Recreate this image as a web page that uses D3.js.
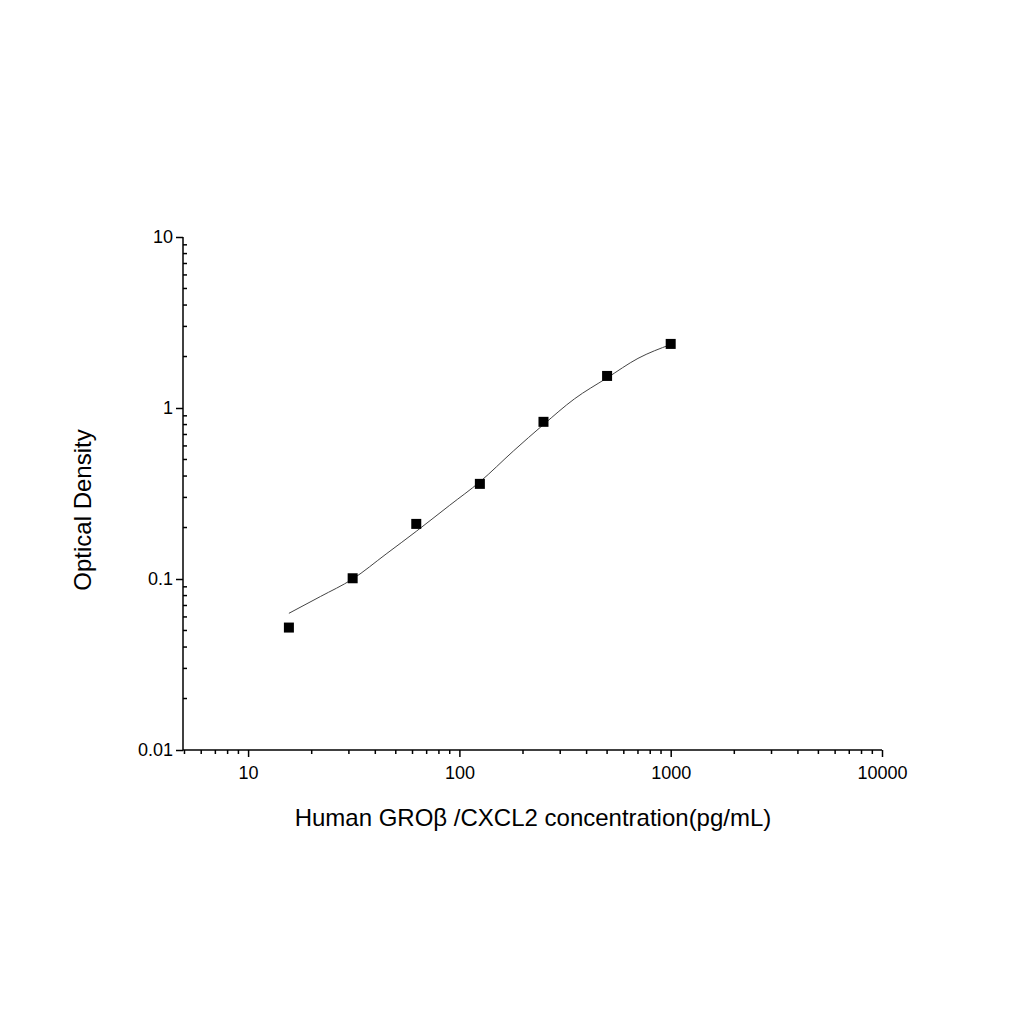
<!DOCTYPE html>
<html><head><meta charset="utf-8">
<script src="https://cdn.jsdelivr.net/npm/d3@7"></script>
<style>body{margin:0;background:#fff}</style>
</head><body><div id="canvas"></div>
<script>
// standard points
let conc = [15.6, 31.25, 62.5, 125, 250, 500, 1000]
let od = [0.052, 0.101, 0.21, 0.36, 0.83, 1.54, 2.37]
// fitted curve
let curveX = [15.6, 22, 31.25, 45, 62.5, 90, 125, 180, 250, 350, 500, 700, 1000]
let curveY = [0.063, 0.079, 0.1, 0.14, 0.19, 0.27, 0.37, 0.56, 0.8, 1.13, 1.5, 1.95, 2.35]
let xTicks = [10, 100, 1000, 10000]
let yTicks = [0.01, 0.1, 1, 10]

window.onload = function(){setup()}

function setup(){
  let svg = d3.select("#canvas").append("svg").attr("width", 1024).attr("height", 1024)
  let font = "Arial, 'Liberation Sans', sans-serif"

  let x = d3.scaleLog().domain([4.92, 10000]).range([183, 882])
  let y = d3.scaleLog().domain([0.01, 10]).range([750, 237])

  let minorX = []
  for (let d = 1; d <= 1000; d *= 10) for (let k = 2; k <= 9; k++) if (k*d >= 5) minorX.push(k*d)
  let minorY = []
  for (let d = 0.01; d < 10; d *= 10) for (let k = 2; k <= 9; k++) minorY.push(k*d)

  let xa = svg.append("g").attr("transform", "translate(0,750)")
    .call(d3.axisBottom(x).tickValues(xTicks).tickFormat(d3.format("d")).tickSize(7).tickSizeOuter(0))
  xa.selectAll(".domain").attr("d", "M183,0H882")
  xa.attr("font-family", font).attr("font-size", 18)
  xa.selectAll("text").attr("dy", "1.05em")
  xa.selectAll("line").attr("stroke-width", 1.5)
  xa.selectAll(".minor").data(minorX).join("line").attr("class", "minor")
    .attr("x1", d => x(d)).attr("x2", d => x(d)).attr("y1", 0).attr("y2", 4)
    .attr("stroke", "#000").attr("stroke-width", 1.5)

  let ya = svg.append("g").attr("transform", "translate(183,0)")
    .call(d3.axisLeft(y).tickValues(yTicks).tickFormat(d => d3.format("~g")(d)).tickSize(7).tickSizeOuter(0))
  ya.selectAll(".domain").attr("d", "M0,237V750")
  ya.attr("font-family", font).attr("font-size", 18)
  ya.selectAll("line").attr("stroke-width", 1.5)
  ya.selectAll(".minor").data(minorY).join("line").attr("class", "minor")
    .attr("y1", d => y(d)).attr("y2", d => y(d)).attr("x1", 0).attr("x2", 4)
    .attr("stroke", "#000").attr("stroke-width", 1.5)
  svg.selectAll(".domain").attr("stroke-width", 1.5)

  let line = d3.line().x((d, i) => x(curveX[i])).y(d => y(d)).curve(d3.curveMonotoneX)
  svg.append("path").attr("d", line(curveY)).attr("fill", "none").attr("stroke", "#444").attr("stroke-width", 1)

  svg.selectAll(".pt").data(od).join("rect").attr("class", "pt")
    .attr("x", (d, i) => x(conc[i]) - 5).attr("y", d => y(d) - 5)
    .attr("width", 10).attr("height", 10).attr("fill", "#000")

  svg.append("text").attr("x", 533).attr("y", 826).attr("text-anchor", "middle")
    .attr("font-family", font).attr("font-size", 24).text("Human GROβ /CXCL2 concentration(pg/mL)")
  svg.append("text").attr("transform", "translate(91,510) rotate(-90)").attr("text-anchor", "middle")
    .attr("font-family", font).attr("font-size", 24).text("Optical Density")
}
</script></body></html>
